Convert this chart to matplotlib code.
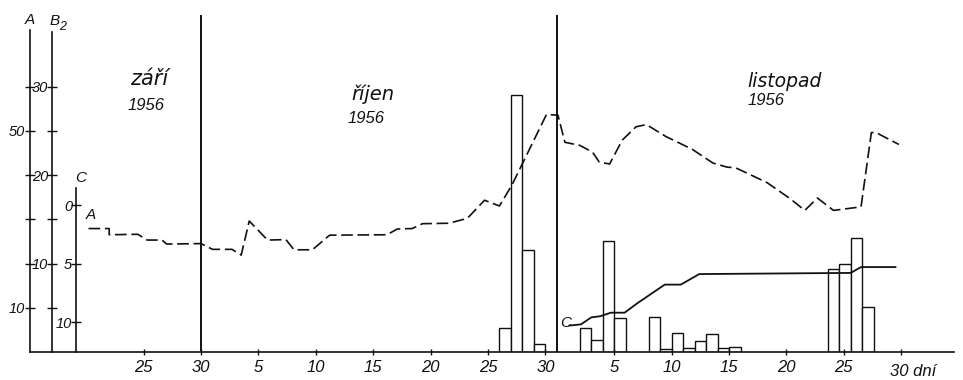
import matplotlib
matplotlib.use("Agg")
import matplotlib.pyplot as plt
import matplotlib.transforms as mtransforms

# ---- data (day index: 1 = 1 Sep 1956, 31 = 1 Oct, 62 = 1 Nov) ----
a_days = [20.2, 22.0, 22.0, 24.5, 25.3, 26.6, 27.0, 30.0, 31.0, 32.7, 33.5, 34.2,
          35.8, 37.4, 38.1, 39.7, 41.2, 46.2, 47.1, 48.4, 49.3, 51.6, 53.2, 54.7,
          56.0, 57.1, 60.1, 61.1, 61.7, 63.0, 64.1, 64.7, 65.6, 66.7, 67.9, 68.8,
          70.5, 72.8, 74.6, 75.8, 76.6, 79.3, 81.3, 82.6, 83.7, 85.1, 87.5, 88.4,
          88.8, 90.8]
a_values = [27.9, 27.9, 26.5, 26.6, 25.3, 25.3, 24.4, 24.5, 23.2, 23.2, 21.9, 29.6,
            25.3, 25.4, 23.1, 23.1, 26.4, 26.5, 27.8, 27.9, 29.0, 29.1, 30.2, 34.3,
            33.0, 37.8, 53.7, 53.5, 47.4, 46.7, 45.2, 42.9, 42.5, 47.9, 50.9, 51.4,
            48.7, 45.8, 42.7, 41.8, 41.6, 38.3, 34.7, 32.0, 34.8, 32.0, 32.8, 49.6,
            49.6, 46.9]

bar_days = [56, 57, 58, 59, 63, 64, 65, 66, 69, 70, 71, 72, 73, 74, 75, 76,
            84.6, 85.6, 86.6, 87.6]
bar_values = [2.7, 29.0, 11.5, 0.9, 2.7, 1.3, 12.5, 3.8, 4.0, 0.3, 2.1, 0.5,
              1.2, 2.0, 0.5, 0.6, 9.4, 9.9, 12.9, 5.1]

c_days = [62.1, 63.1, 64.0, 64.8, 65.7, 66.9, 68.0, 69.2, 70.4, 71.8, 73.4,
          86.6, 87.5, 90.5]
c_values = [10.3, 10.2, 9.6, 9.5, 9.2, 9.2, 8.4, 7.6, 6.8, 6.8, 5.9, 5.8, 5.3, 5.3]

x_tick_days = [25, 30, 35, 40, 45, 50, 55, 60, 66, 71, 76, 81, 86, 91]
x_tick_labels = ["25", "30", "5", "10", "15", "20", "25", "30",
                 "5", "10", "15", "20", "25", "30 dní"]
month_end_days = [30, 61]
month_names = ["září", "říjen", "listopad"]
month_years = ["1956", "1956", "1956"]

a_ticks = [10, 20, 30, 40, 50, 60]
a_tick_labels = ["10", "", "", "", "50", ""]
b2_ticks = [5, 10, 15, 20, 25, 30]
b2_tick_labels = ["", "10", "", "20", "", "30"]
c_ticks = [0, 5, 10]
c_tick_labels = ["0", "5", "10"]

# ---- style ----
plt.rcParams["font.family"] = ["Liberation Sans", "DejaVu Sans"]
plt.rcParams["font.style"] = "italic"
INK = "#111111"
FS_TICK = 10.5
FS_LAB = 11

fig = plt.figure(figsize=(9.63, 3.80), dpi=100, facecolor="white")
rect = [30 / 963, 28 / 380, 924 / 963, 340.7 / 380]

ax = fig.add_axes(rect)
ax.set_xlim(15.1, 95.6)
ax.set_ylim(0, 77)

ax_b = ax.twinx()
ax_b.set_ylim(0, 38.5)
ax_c = ax.twinx()
ax_c.set_ylim(12.56, -16.56)

ax_b.set_zorder(1)
ax_c.set_zorder(2)
ax.set_zorder(3)
ax.patch.set_visible(False)

for a in (ax, ax_b, ax_c):
    for s in ("top", "right"):
        a.spines[s].set_visible(False)
    a.spines["left"].set_linewidth(1.2)
    a.spines["left"].set_color(INK)
for a in (ax_b, ax_c):
    a.spines["bottom"].set_visible(False)
    a.yaxis.set_ticks_position("left")
    a.tick_params(axis="x", which="both", bottom=False, labelbottom=False)

# A axis (main)
ax.spines["left"].set_bounds(0, 72.8)
ax.spines["bottom"].set_linewidth(1.2)
ax.spines["bottom"].set_color(INK)
ax.set_yticks(a_ticks)
ax.set_yticklabels(a_tick_labels, fontsize=FS_TICK)
ax.tick_params(axis="y", direction="inout", length=7, width=1.0, pad=0, colors=INK)

# B2 axis
ax_b.spines["left"].set_position(("data", 17.0))
ax_b.spines["left"].set_bounds(0, 36.2)
ax_b.set_yticks(b2_ticks)
ax_b.set_yticklabels(b2_tick_labels, fontsize=FS_TICK)
ax_b.tick_params(axis="y", direction="inout", length=7, width=1.0, pad=-1, colors=INK)

# C axis
ax_c.spines["left"].set_position(("data", 19.07))
ax_c.spines["left"].set_bounds(-1.45, 12.56)
ax_c.set_yticks(c_ticks)
ax_c.set_yticklabels(c_tick_labels, fontsize=FS_TICK)
ax_c.tick_params(axis="y", direction="inout", length=7, width=1.0, pad=-1, colors=INK)

# x axis
ax.set_xticks(x_tick_days)
ax.set_xticklabels(x_tick_labels, fontsize=12)
ax.tick_params(axis="x", direction="inout", length=5, width=1.0, pad=3, colors=INK)
last = ax.get_xticklabels()[-1]
last.set_transform(last.get_transform() +
                   mtransforms.ScaledTranslation(12 / 100, -4 / 100, fig.dpi_scale_trans))

# bars (B2)
ax_b.bar(bar_days, bar_values, width=1.0, align="edge", facecolor="white",
         edgecolor=INK, linewidth=1.0)

# C line
ax_c.plot(c_days, c_values, color=INK, linewidth=1.3, solid_joinstyle="round")

# A dashed line
ax.plot(a_days, a_values, color=INK, linewidth=1.2, linestyle=(0, (7, 2.8)))

# month separators
ax.vlines(month_end_days, 0, 76.2, color=INK, linewidth=1.4)

# axis names
ax.text(15.1, 75.0, "A", fontsize=FS_LAB, ha="center", va="center", color=INK)
ax.text(17.2, 74.8, "B", fontsize=FS_LAB, ha="center", va="center", color=INK)
ax.text(17.95, 73.5, "2", fontsize=9, ha="center", va="center", color=INK)
ax.text(19.5, 39.3, "C", fontsize=FS_LAB, ha="center", va="center", color=INK)
ax.text(20.4, 30.9, "A", fontsize=FS_LAB, ha="center", va="center", color=INK)
ax.text(61.75, 6.6, "C", fontsize=FS_LAB, ha="center", va="center", color=INK)

# month labels
month_name_pos = [(23.8, 60.3), (43.1, 56.9), (77.6, 59.9)]
month_name_size = [15, 14, 13.5]
month_year_pos = [(23.6, 54.7), (42.8, 51.75), (77.6, 55.8)]
for name, yr, (nx, ny), (yx, yy), fs in zip(month_names, month_years,
                                            month_name_pos, month_year_pos,
                                            month_name_size):
    ax.text(nx, ny, name, fontsize=fs, ha="left", va="baseline", color=INK,
            family=["DejaVu Sans"], style="oblique")
    ax.text(yx, yy, yr, fontsize=12, ha="left", va="baseline", color=INK)

fig.savefig("out.png", dpi=100, facecolor="white")
